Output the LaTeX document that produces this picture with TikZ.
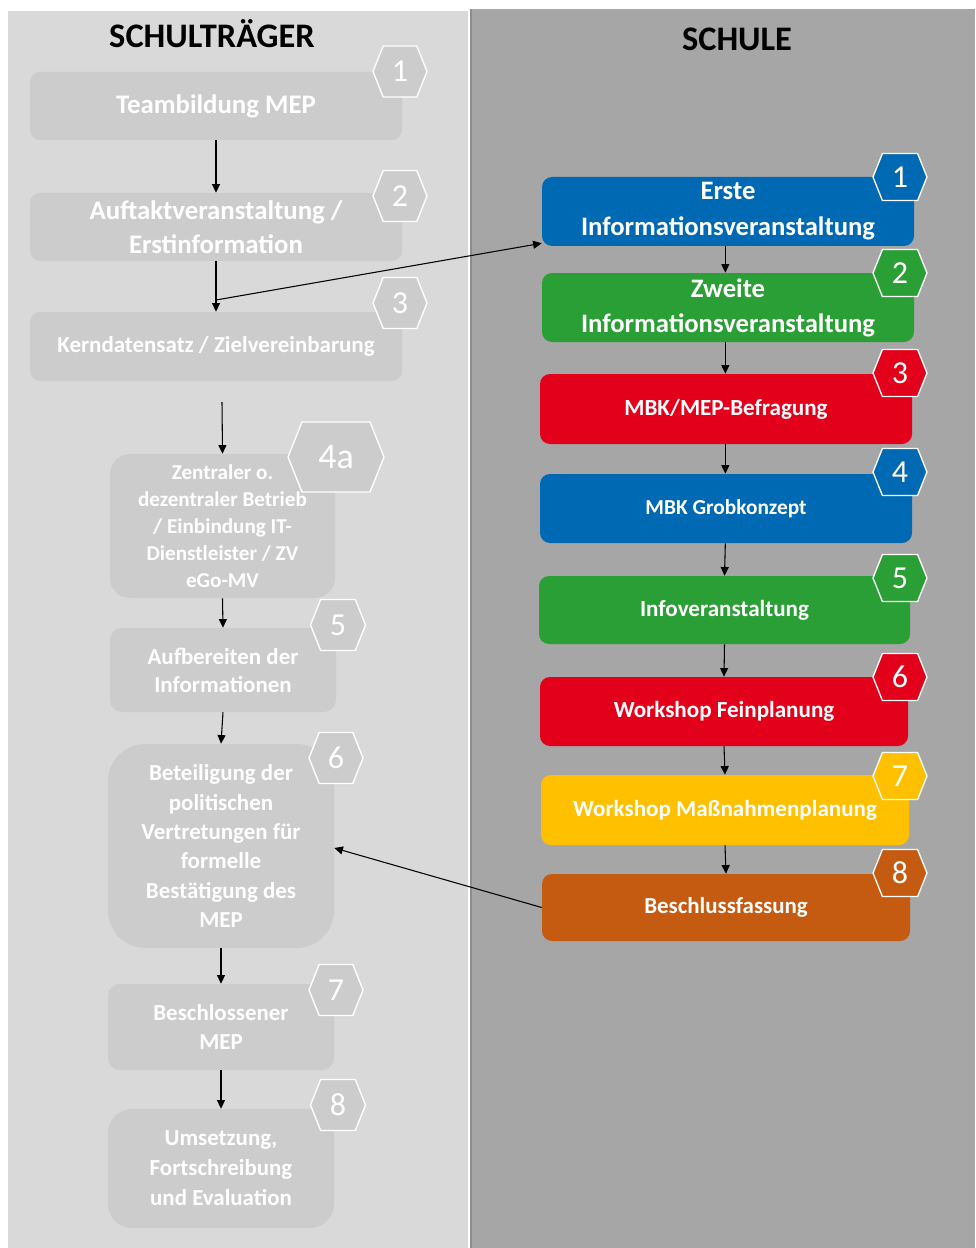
\documentclass[tikz,border=0pt]{standalone}
\usepackage{fontspec}
\setmainfont{Carlito}
\usetikzlibrary{arrows.meta}
\definecolor{panelL}{HTML}{D9D9D9}
\definecolor{panelR}{HTML}{A6A6A6}
\definecolor{boxgray}{HTML}{CCCCCC}
\definecolor{sblue}{HTML}{0069B4}
\definecolor{sgreen}{HTML}{2A9F35}
\definecolor{sred}{HTML}{E2001A}
\definecolor{syellow}{HTML}{FFC000}
\definecolor{sorange}{HTML}{C55A11}
\tikzset{
  fsz/.style 2 args={font=\fontsize{#1}{#2}\selectfont\bfseries},
  sz/.style 2 args={minimum width=#1*0.75pt, minimum height=#2*0.75pt},
  lbox/.style={fill=boxgray, text=white, inner sep=0pt, align=center, rounded corners=#1},
  rbox/.style={fill=#1, text=white, inner sep=0pt, align=center, rounded corners=7.5pt},
  hexline/.style={draw=white, line width=1pt},
  hexnum/.style={text=white, inner sep=0pt, font=\fontsize{24pt}{26pt}\selectfont},
  heading/.style={inner sep=0pt, font=\fontsize{25.8pt}{28pt}\selectfont\bfseries},
  arr/.style={draw=black, line width=0.8pt, -{Triangle[length=6.5pt,width=6pt]}},
}
\newcommand\hexmark[7]{%
  \filldraw[hexline, fill=#6] ({#2-#4/2},#3) -- ({#2-#4/2+0.2*#5},{#3-#5/2}) -- ({#2+#4/2-0.2*#5},{#3-#5/2}) -- ({#2+#4/2},#3) -- ({#2+#4/2-0.2*#5},{#3+#5/2}) -- ({#2-#4/2+0.2*#5},{#3+#5/2}) -- cycle;
  \node[hexnum] (#1) at (#2,#3) {#7};}
\begin{document}
\begin{tikzpicture}[x=0.75pt,y=-0.75pt]
\useasboundingbox (0,0) rectangle (975,1248);
\fill[white] (0,0) rectangle (975,1248);
% panels
\fill[panelL] (8,11) rectangle (467.5,1248);
\fill[panelR] (470,9) rectangle (975,1248);
\draw[color=black!45, line width=0.8pt] (471,9) -- (471,1248);
\node[heading] (hL) at (212,34) {SCHULTRÄGER};
\node[heading] (hR) at (737,39) {SCHULE};

% left column
\node[lbox=7.5pt, sz={372}{68}, fsz={20.1pt}{25.5pt}] (l1) at (216,106) {Teambildung MEP};
\node[lbox=7.5pt, sz={372}{68}, fsz={20.1pt}{25.5pt}] (l2) at (216,227) {Auftaktveranstaltung /\\Erstinformation};
\node[lbox=7.5pt, sz={372}{69}, fsz={17.2pt}{20pt}] (l3) at (216,346.5) {Kerndatensatz / Zielvereinbarung};
\node[lbox=15pt, sz={225}{144}, fsz={15.85pt}{20.25pt}] (l4) at (222.5,526) {Zentraler o.\\dezentraler Betrieb\\/ Einbindung IT-\\Dienstleister / ZV\\eGo-MV};
\node[lbox=9pt, sz={226}{84}, fsz={17.2pt}{21pt}] (l5) at (223,670) {Aufbereiten der\\Informationen};
\node[lbox=28pt, sz={226}{204}, fsz={17.2pt}{22pt}] (l6) at (221,846) {Beteiligung der\\politischen\\Vertretungen für\\formelle\\Bestätigung des\\MEP};
\node[lbox=9pt, sz={226}{86}, fsz={17.2pt}{21.75pt}] (l7) at (221,1027) {Beschlossener\\MEP};
\node[lbox=18pt, sz={226}{119}, fsz={17.2pt}{22.5pt}] (l8) at (221,1168.5) {Umsetzung,\\Fortschreibung\\und Evaluation};

\hexmark{n1}{400}{71.5}{54}{51}{boxgray}{1}
\hexmark{n2}{400}{196}{54}{51}{boxgray}{2}
\hexmark{n3}{400}{303}{54}{51}{boxgray}{3}
\hexmark{n4}{336}{457}{96}{70}{boxgray}{\fontsize{27pt}{29pt}\selectfont 4a}
\hexmark{n5}{338}{625}{55}{51}{boxgray}{5}
\hexmark{n6}{336}{758}{54}{51}{boxgray}{6}
\hexmark{n7}{336}{990}{54}{51}{boxgray}{7}
\hexmark{n8}{338}{1105}{55}{51}{boxgray}{8}

% right column
\node[rbox=sblue, sz={372}{69}, fsz={20pt}{27pt}] (r1) at (728,211.5) {Erste\\Informationsveranstaltung};
\node[rbox=sgreen, sz={372}{69}, fsz={20pt}{26.25pt}] (r2) at (728,307.5) {Zweite\\Informationsveranstaltung};
\node[rbox=sred, sz={372}{70}, fsz={17.3pt}{20pt}] (r3) at (726,409) {MBK/MEP-Befragung};
\node[rbox=sblue, sz={372}{69}, fsz={16pt}{20pt}] (r4) at (726,508.5) {MBK Grobkonzept};
\node[rbox=sgreen, sz={371}{68}, fsz={17.3pt}{20pt}] (r5) at (724.5,610) {Infoveranstaltung};
\node[rbox=sred, sz={368}{69}, fsz={17.3pt}{20pt}] (r6) at (724,711.5) {Workshop Feinplanung};
\node[rbox=syellow, sz={368}{70}, fsz={17.3pt}{20pt}] (r7) at (725,810) {Workshop Maßnahmenplanung};
\node[rbox=sorange, sz={368}{67}, fsz={17.2pt}{20pt}] (r8) at (726,907.5) {Beschlussfassung};

\hexmark{m1}{900}{177}{54}{47}{sblue}{1}
\hexmark{m2}{900}{273}{54}{47}{sgreen}{2}
\hexmark{m3}{900}{373}{54}{47}{sred}{3}
\hexmark{m4}{900}{472}{54}{47}{sblue}{4}
\hexmark{m5}{900}{578}{54}{47}{sgreen}{5}
\hexmark{m6}{900}{677}{54}{47}{sred}{6}
\hexmark{m7}{900}{776}{54}{47}{syellow}{7}
\hexmark{m8}{900}{873}{54}{47}{sorange}{8}

% connectors left
\coordinate (c23) at (216,300);
\coordinate (c34) at (222,402);
\draw[arr] (l1.south) -- (l2.north);
\draw[arr] (l2.south) -- (l3.north);
\draw[arr] (c23) -- ([yshift=2.25pt]r1.south west);
\draw[arr] (c34) -- (l4.north);
\draw[arr] (l4.south) -- (l5.north);
\draw[arr] (l5.south) -- (l6.north);
\draw[arr] (l6.south) -- (l7.north);
\draw[arr] (l7.south) -- (l8.north);
\draw[arr] (r8.west) -- ([yshift=-1.5pt]l6.east);
% connectors right
\draw[arr] ([xshift=-2pt]r1.south) -- ([xshift=-2pt]r2.north);
\draw[arr] ([xshift=-2pt]r2.south) -- ([xshift=-0.5pt]r3.north);
\draw[arr] ([xshift=-0.5pt]r3.south) -- ([xshift=-0.5pt]r4.north);
\draw[arr] ([xshift=-0.5pt]r4.south) -- (r5.north);
\draw[arr] (r5.south) -- (r6.north);
\draw[arr] (r6.south) -- (r7.north);
\draw[arr] (r7.south) -- (r8.north);
\end{tikzpicture}
\end{document}
